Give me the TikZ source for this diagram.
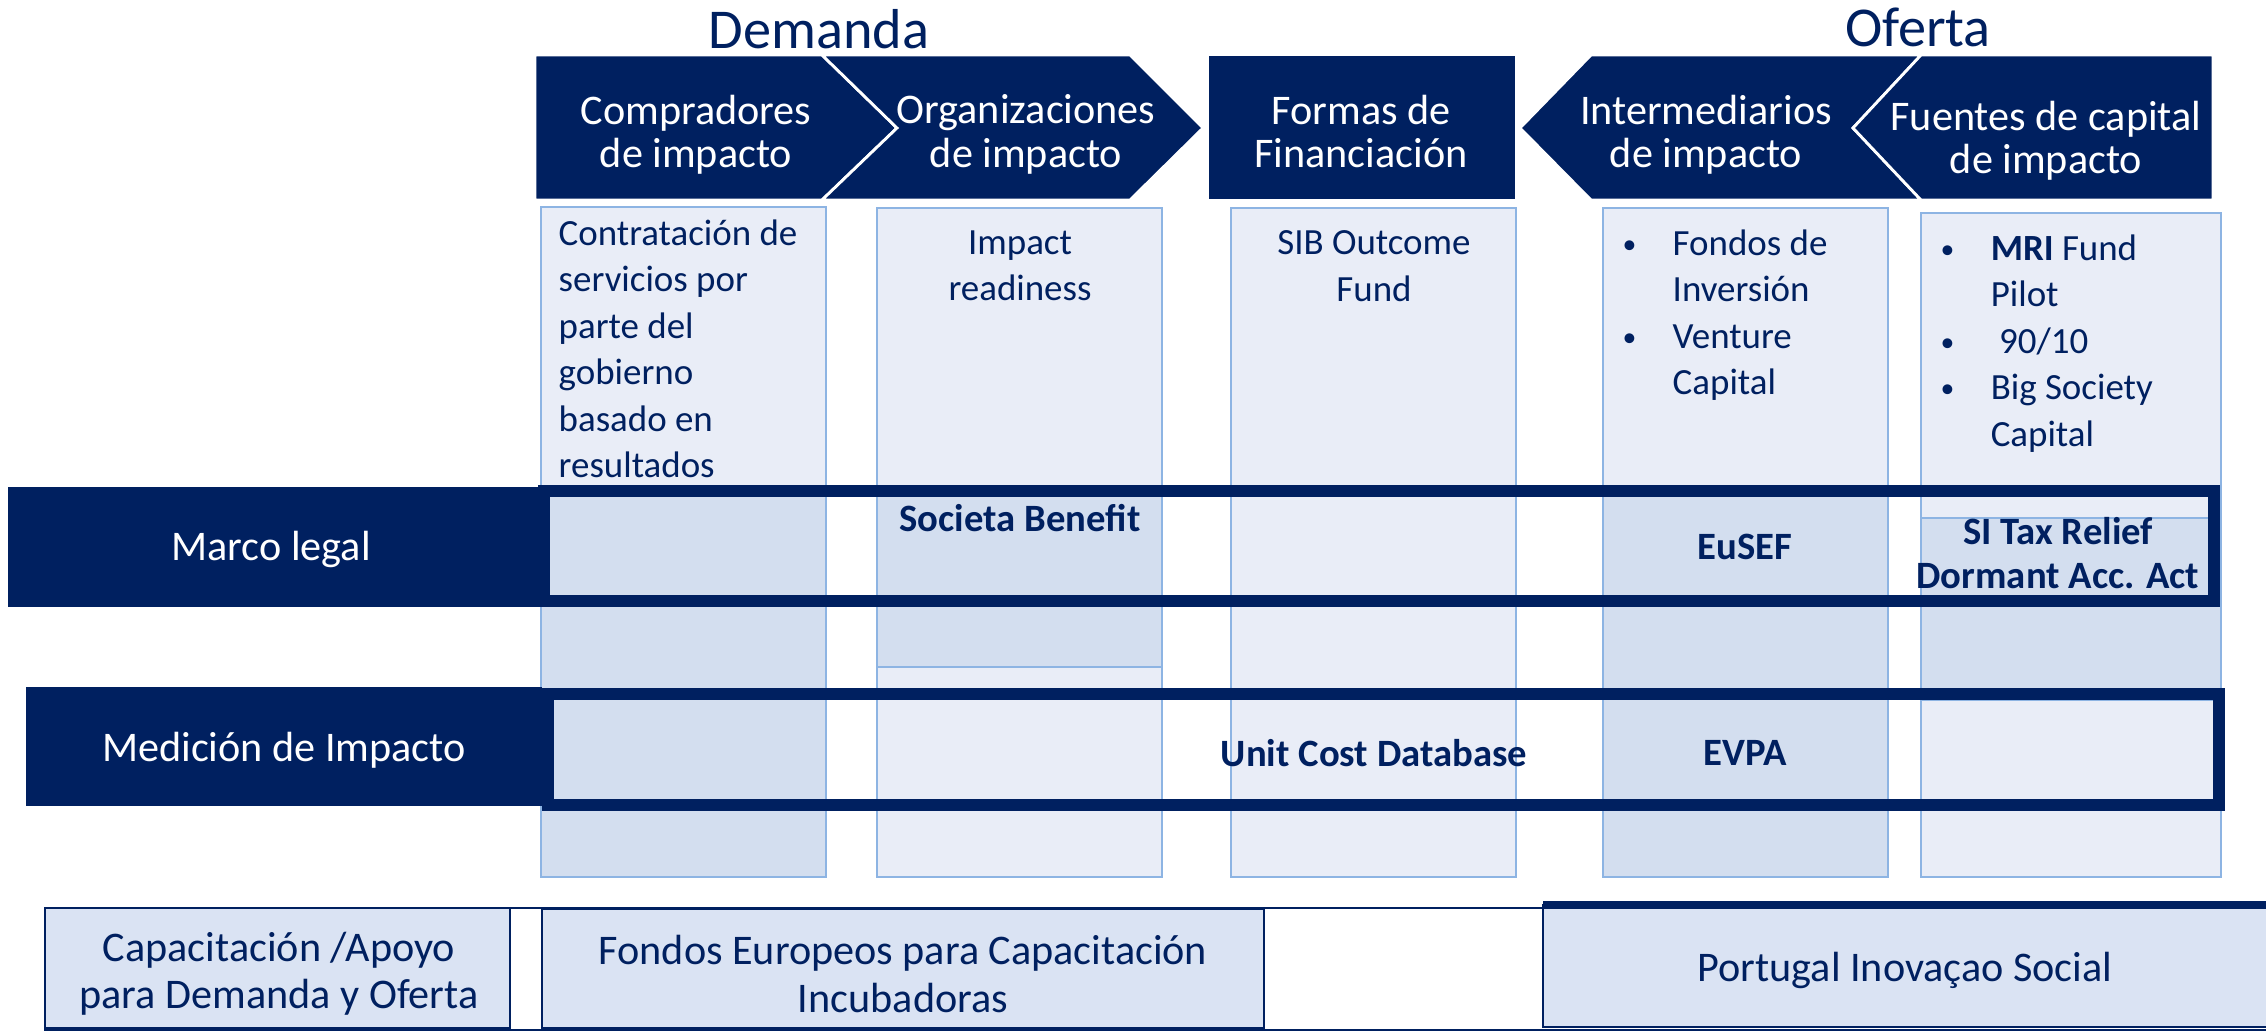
\documentclass[tikz,border=0pt]{standalone}
\usepackage{fontspec}
\setmainfont{Carlito}
\usetikzlibrary{positioning}
\definecolor{navy}{RGB}{0,32,96}
\definecolor{paleblue}{RGB}{233,237,247}
\definecolor{midblue}{RGB}{211,222,239}
\definecolor{edgeblue}{RGB}{141,180,227}
\definecolor{boxblue}{RGB}{218,227,243}
\newcommand{\bul}{\makebox[0.5cm][l]{\raisebox{0.12ex}{\scalebox{0.75}{\textbullet}}}}
\newcommand{\ind}{\hspace*{0.5cm}}
\tikzset{Hdr/.style={fill=navy, draw=white, line width=0.8pt},
         HdrTxt/.style={text=white, font=\fontsize{12}{12.5}\selectfont, align=center, inner sep=0pt, anchor=north, execute at begin node=\strut},
         Title/.style={text=navy, font=\fontsize{16}{18}\selectfont, inner sep=0pt},
         ColBox/.style={fill=paleblue, draw=edgeblue, line width=0.6pt},
         ColDark/.style={fill=midblue, draw=edgeblue, line width=0.6pt},
         ColTxt/.style={text=navy, font=\fontsize{10.5}{13.2}\selectfont, inner sep=0pt, anchor=north, align=center, execute at begin node=\strut},
         ColTxtL/.style={ColTxt, anchor=north west, align=left},
         BoldTxt/.style={text=navy, font=\fontsize{11}{12.5}\selectfont\bfseries, inner sep=0pt, align=center},
         Frame/.style={draw=navy, line width=0.12cm},
         RowLbl/.style={text=white, font=\fontsize{12}{14}\selectfont, inner sep=0pt},
         SupBox/.style={fill=boxblue, draw=navy, line width=0.8pt},
         SupTxt/.style={text=navy, font=\fontsize{12}{13.4}\selectfont, inner sep=0pt, align=center}}
\begin{document}
\begin{tikzpicture}[x=0.01cm, y=-0.01cm]
  \useasboundingbox (0,0) rectangle (2266,1033);
  % titles
  \node[Title] (dem) at (819,29) {Demanda};
  \node[Title] (ofe) at (1918,27) {Oferta};
  % header row
  \path[Hdr] (535,55) -- (822,55) -- (897,128) -- (822,200) -- (535,200) -- cycle;
  \path[Hdr] (822,55) -- (1130,55) -- (1203,128) -- (1130,200) -- (822,200) -- (897,128) -- cycle;
  \path[Hdr] (1208,55) rectangle (1516,200);
  \path[Hdr] (1520,128) -- (1591,55) -- (1921,55) -- (1853,128) -- (1921,200) -- (1591,200) -- cycle;
  \path[Hdr] (1921,55) -- (2213,55) -- (2213,200) -- (1921,200) -- (1853,128) -- cycle;
  \node[HdrTxt] (h1) at (696,94) {Compradores\\de impacto};
  \node[HdrTxt] (h2) at (1026,94) {Organizaciones\\de impacto};
  \node[HdrTxt] (h3) at (1361,94) {Formas de\\Financiación};
  \node[HdrTxt] (h4) at (1706,94) {Intermediarios\\de impacto};
  \node[HdrTxt] (h5) at (2046,100) {Fuentes de capital\\de impacto};
  % columns
  \foreach \xa/\xb/\yt in {541/826/207, 877/1162/208, 1231/1516/208, 1603/1888/208, 1921/2221/213}
    \draw[ColBox] (\xa,\yt) rectangle (\xb,877);
  \draw[ColDark] (541,487) rectangle (826,877);
  \draw[ColDark] (877,487) rectangle (1162,667);
  \draw[ColDark] (1603,487) rectangle (1888,877);
  \draw[ColDark] (1921,518) rectangle (2221,700);
  \node[ColTxtL] (c1) at (558,219) {Contratación de\\servicios por\\parte del\\gobierno\\basado en\\resultados};
  \node[ColTxt] (c2) at (1020,230) {Impact\\readiness};
  \node[ColTxt] (c3) at (1374,230) {SIB Outcome\\Fund};
  \node[ColTxtL] (c4) at (1622,229) {\bul Fondos de\\\ind Inversión\\\bul Venture\\\ind Capital};
  \node[ColTxtL] (c5) at (1940,234) {\bul\textbf{MRI} Fund\\\ind Pilot\\\bul\ 90/10\\\bul Big Society\\\ind Capital};
  % rows
  \draw[Frame] (544,491) rectangle (2214,601);
  \draw[Frame] (548,694) rectangle (2219,805);
  \fill[navy] (8,487) rectangle (538,607);
  \fill[navy] (26,687) rectangle (542,806);
  \node[RowLbl] (r1) at (271,549) {Marco legal};
  \node[RowLbl] (r2) at (284,750) {Medición de Impacto};
  \node[BoldTxt] (m1) at (1020,518) {Societa Benefit};
  \node[BoldTxt] (m2) at (1745,547) {EuSEF};
  \node[BoldTxt] (m3) at (2058,553) {SI Tax Relief\\Dormant Acc. Act};
  \node[BoldTxt] (m4) at (1374,753) {Unit Cost Database};
  \node[BoldTxt] (m5) at (1745,753) {EVPA};
  % support row
  \draw[navy, line width=0.8pt] (45,908) rectangle (2275,1030);
  \draw[SupBox] (45,908) rectangle (510,1028);
  \draw[SupBox] (542,909) rectangle (1264,1028);
  \draw[SupBox] (1543,905) rectangle (2275,1027);
  \draw[navy, line width=2pt] (1543,905) -- (2266,905);
  \node[SupTxt] (s1) at (279,974) {Capacitación /Apoyo\\para Demanda y Oferta};
  \node[SupTxt] (s2) at (903,974) {Fondos Europeos para Capacitación\\Incubadoras};
  \node[SupTxt] (s3) at (1905,970) {Portugal Inovaçao Social};
\end{tikzpicture}
\end{document}
